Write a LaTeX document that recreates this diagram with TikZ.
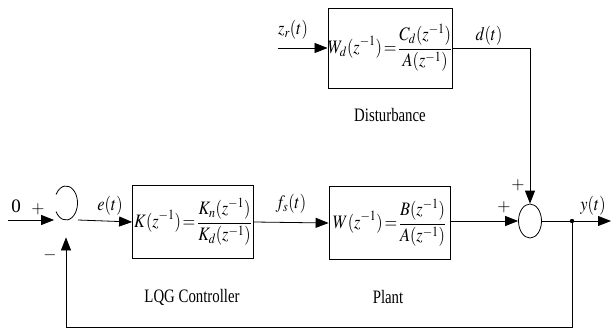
\documentclass[tikz,border=0pt]{standalone}
\usepackage{graphicx}
\usepackage{mathptmx}
\usepackage{fontspec}
\setmainfont{Liberation Serif}
\usetikzlibrary{arrows.meta,shapes.geometric}
\newcommand{\condense}[2]{\scalebox{#1}[1]{#2}}
\begin{document}
\begin{tikzpicture}[x=1pt,y=-1pt,
  line width=0.8pt,
  arr/.style={-{Triangle[length=13pt,width=10pt]}},
  blk/.style={draw,minimum width=121pt,minimum height=73pt,inner sep=0pt,font=\fontsize{19}{22}\selectfont},
  sumj/.style={ellipse,minimum width=23pt,minimum height=34pt,inner sep=0pt},
  lbl/.style={font=\fontsize{19}{22}\selectfont,inner sep=0pt},
  captxt/.style={font=\rmfamily\fontsize{19}{22}\selectfont,inner sep=0pt},
  sgn/.style={font=\fontsize{17}{20}\selectfont,inner sep=0pt}]
\useasboundingbox (0,0) rectangle (612,331);

% blocks
\node[blk] (K) at (193,222) {\condense{0.86}{$\displaystyle K(z^{-1})\!=\!\frac{K_n(z^{-1})}{K_d(z^{-1})}$}};
\node[blk] (P) at (389.5,223) {\condense{0.86}{$\displaystyle W(z^{-1})\!=\!\frac{B(z^{-1})}{A(z^{-1})}$}};
\node[blk,minimum height=80pt] (D) at (390,48) {\condense{0.86}{$\displaystyle W_d(z^{-1})\!=\!\frac{C_d(z^{-1})}{A(z^{-1})}$}};

% summing junctions
\node[sumj] (s1) at (66,220) {};
\draw ([shift={(-9.96,-8.5)}]s1.center) arc[start angle=150,end angle=-150,x radius=11.5,y radius=17];
\node[sumj,draw] (s2) at (530,221) {};

% coordinates
\coordinate (in) at (8,220);
\coordinate (zin) at (278,48);
\coordinate (dc) at (530,48);
\coordinate (tap) at (572,221);
\coordinate (out) at (611,221);
\coordinate (fb1) at (572,327);
\coordinate (fb2) at (66,327);

% connectors
\draw[arr] (in) -- (s1.west);
\draw[arr] (s1.east) -- (K.west);
\draw[arr] (K.east) -- (P.west);
\draw[arr] (P.east |- s2.west) -- (s2.west);
\draw[arr] (zin) -- (D.west);
\draw[arr] (D.east) -- (dc) -- (s2.north);
\draw[arr] (s2.east) -- (out);
\draw[arr] (tap) -- (fb1) -- (fb2) -- (s1.south);
\fill (tap) circle (2.2pt);

% signal labels
\node[lbl] (l0) at (16,206) {0};
\node[sgn] (lp1) at (38,209) {$+$};
\node[sgn] (lm1) at (50,255) {$-$};
\node[lbl] (le) at (110,206) {\condense{0.86}{$e(t)$}};
\node[lbl] (lf) at (291,204) {\condense{0.86}{$f_s(t)$}};
\node[lbl] (lz) at (293,30) {\condense{0.86}{$z_r(t)$}};
\node[lbl] (ld) at (489,36) {\condense{0.86}{$d(t)$}};
\node[lbl] (ly) at (593,206) {\condense{0.86}{$y(t)$}};
\node[sgn] (lp2) at (504,207) {$+$};
\node[sgn] (lp3) at (518,185) {$+$};

% captions
\node[captxt] (cK) at (192,297) {\condense{0.78}{LQG Controller}};
\node[captxt] (cP) at (388,297) {\condense{0.78}{Plant}};
\node[captxt] (cD) at (390,115) {\condense{0.78}{Disturbance}};
\end{tikzpicture}
\end{document}
